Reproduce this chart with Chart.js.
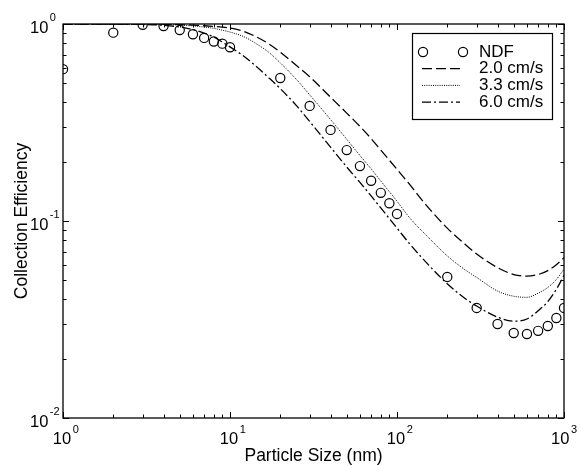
<!DOCTYPE html>
<html>
<head>
<meta charset="utf-8">
<script src="https://cdn.jsdelivr.net/npm/chart.js@4.4.1/dist/chart.umd.min.js"></script>
<style>
  html, body { margin: 0; padding: 0; background: #fff; }
  canvas { display: block; }
</style>
</head>
<body>
<canvas id="c" width="580" height="466"></canvas>
<script>
// ---- data ----
const ndfSize = [1, 2, 3, 4, 5, 6, 7, 8, 9, 10, 20, 30, 40, 50, 60, 70, 80, 90, 100, 200, 300, 400, 500, 600, 700, 800, 900, 1000];
const ndfEff  = [0.59, 0.904, 0.99, 0.977, 0.932, 0.887, 0.85, 0.815, 0.795, 0.762, 0.532, 0.384, 0.29, 0.229, 0.19, 0.16, 0.139, 0.123, 0.1086, 0.052, 0.0362, 0.030, 0.027, 0.0267, 0.0277, 0.0293, 0.0322, 0.0362];

const curveSize = [1, 2, 3, 4, 5, 6, 7, 8, 9, 10, 12, 14, 17, 20, 25, 30, 40, 50, 60, 70, 80, 100, 120, 150, 200, 250, 300, 400, 500, 600, 700, 800, 900, 1000];
const eff20 = [1.0, 1.0, 0.999, 0.997, 0.993, 0.987, 0.98, 0.972, 0.963, 0.955, 0.92, 0.87, 0.795, 0.72, 0.615, 0.54, 0.425, 0.353, 0.302, 0.262, 0.229, 0.183, 0.152, 0.12, 0.092, 0.0775, 0.068, 0.058, 0.0535, 0.0525, 0.0535, 0.056, 0.06, 0.065];
const eff33 = [1.0, 1.0, 0.998, 0.995, 0.988, 0.978, 0.965, 0.95, 0.93, 0.91, 0.865, 0.805, 0.72, 0.635, 0.523, 0.437, 0.3275, 0.26, 0.215, 0.184, 0.1595, 0.126, 0.103, 0.0845, 0.0665, 0.0573, 0.0517, 0.0441, 0.0415, 0.041, 0.043, 0.046, 0.0505, 0.057];
const eff60 = [1.0, 0.999, 0.995, 0.985, 0.965, 0.935, 0.9, 0.86, 0.81, 0.765, 0.69, 0.62, 0.535, 0.47, 0.385, 0.32, 0.237, 0.188, 0.157, 0.134, 0.1165, 0.092, 0.076, 0.0615, 0.048, 0.041, 0.037, 0.0325, 0.031, 0.0318, 0.035, 0.039, 0.045, 0.053];

const seriesLabels = ['NDF', '2.0 cm/s', '3.3 cm/s', '6.0 cm/s'];
const xTickValues = [1, 10, 100, 1000];
const xTickExps   = ['0', '1', '2', '3'];
const yTickValues = [0.01, 0.1, 1];
const yTickExps   = ['-2', '-1', '0'];
const xTitle = 'Particle Size (nm)';
const yTitle = 'Collection Efficiency';

const FONT = '"Liberation Sans", Arial, Helvetica, sans-serif';

function pts(xs, ys) { return xs.map((v, i) => ({ x: v, y: ys[i] })); }

const lineBase = {
  showLine: true, pointRadius: 0, pointHoverRadius: 0,
  borderColor: '#000', backgroundColor: 'transparent',
  fill: false, cubicInterpolationMode: 'monotone'
};

const decor = {
  id: 'decor',
  afterDatasetsDraw(chart) {
    const { ctx, chartArea: a, scales: { x, y } } = chart;
    ctx.save();
    ctx.strokeStyle = '#000';
    ctx.lineWidth = 1.3;
    ctx.setLineDash([]);
    ctx.strokeRect(a.left, a.top, a.right - a.left, a.bottom - a.top);

    // minor/major ticks on all four sides, pointing inward
    ctx.lineWidth = 1;
    ctx.beginPath();
    for (let d = 1; d <= 1000; d *= 10) {
      for (let m = 1; m <= (d === 1000 ? 1 : 9); m++) {
        const px = Math.round(x.getPixelForValue(d * m)) + 0.5;
        const len = m === 1 ? 6 : 3.5;
        ctx.moveTo(px, a.bottom); ctx.lineTo(px, a.bottom - len);
        ctx.moveTo(px, a.top); ctx.lineTo(px, a.top + len);
      }
    }
    for (let d = 0.01; d <= 1.0001; d *= 10) {
      for (let m = 1; m <= (d > 0.5 ? 1 : 9); m++) {
        const py = Math.round(y.getPixelForValue(d * m)) + 0.5;
        const len = m === 1 ? 6 : 3.5;
        ctx.moveTo(a.left, py); ctx.lineTo(a.left + len, py);
        ctx.moveTo(a.right, py); ctx.lineTo(a.right - len, py);
      }
    }
    ctx.stroke();

    // tick labels 10^n
    ctx.fillStyle = '#000';
    ctx.textBaseline = 'alphabetic';
    ctx.textAlign = 'left';
    const baseFont = '16.5px ' + FONT, expFont = '11px ' + FONT;
    const W = chart.width;
    xTickValues.forEach((v, i) => {
      const px = x.getPixelForValue(v);
      ctx.font = baseFont;
      const w = ctx.measureText('10').width;
      ctx.font = expFont;
      const we = ctx.measureText(xTickExps[i]).width;
      let lx = px - w / 2 - 1;
      const overflow = lx + w + 1.5 + we - (W - 3);
      if (overflow > 0) lx -= overflow;
      ctx.font = baseFont;
      ctx.fillText('10', lx, a.bottom + 26);
      ctx.font = expFont;
      ctx.fillText(xTickExps[i], lx + w + 1.5, a.bottom + 15);
    });
    yTickValues.forEach((v, i) => {
      const py = y.getPixelForValue(v);
      ctx.font = baseFont;
      const w = ctx.measureText('10').width;
      const lx = a.left - 33;
      ctx.fillText('10', lx, py + 9);
      ctx.font = expFont;
      ctx.fillText(yTickExps[i], lx + w + 1.5, py - 3);
    });

    // legend
    const bx = a.right - 152, by = a.top + 9, bw = 140, bh = 86;
    ctx.lineWidth = 1.2;
    ctx.strokeRect(bx + 0.5, by + 0.5, bw, bh);
    ctx.font = '17px ' + FONT;
    ctx.textBaseline = 'middle';
    chart.data.datasets.forEach((ds, i) => {
      const ry = by + 19 + i * 16.7;
      if (!ds.showLine) {
        ctx.lineWidth = ds.pointBorderWidth;
        ctx.setLineDash([]);
        [bx + 11, bx + 51].forEach(cx => {
          ctx.beginPath(); ctx.arc(cx, ry, ds.pointRadius, 0, Math.PI * 2); ctx.stroke();
        });
      } else {
        ctx.lineWidth = ds.borderWidth;
        ctx.setLineDash(ds.borderDash || []);
        ctx.beginPath(); ctx.moveTo(bx + 10, ry); ctx.lineTo(bx + 48, ry); ctx.stroke();
      }
      ctx.setLineDash([]);
      ctx.fillText(ds.label, bx + 67, ry);
    });
    ctx.restore();
  }
};

new Chart(document.getElementById('c'), {
  type: 'scatter',
  data: {
    datasets: [
      { label: seriesLabels[0], data: pts(ndfSize, ndfEff), showLine: false,
        pointStyle: 'circle', pointRadius: 4.6, pointBorderWidth: 1.2,
        pointBorderColor: '#000', pointBackgroundColor: 'rgba(0,0,0,0)' },
      Object.assign({}, lineBase, { label: seriesLabels[1], data: pts(curveSize, eff20), borderDash: [10, 4], borderWidth: 1.3 }),
      Object.assign({}, lineBase, { label: seriesLabels[2], data: pts(curveSize, eff33), borderDash: [1, 1.2], borderWidth: 1 }),
      Object.assign({}, lineBase, { label: seriesLabels[3], data: pts(curveSize, eff60), borderDash: [9, 3, 2, 3], borderWidth: 1.3 })
    ]
  },
  options: {
    responsive: false,
    animation: false,
    events: [],
    layout: { padding: { left: 0, top: 24, right: 16, bottom: 0 } },
    plugins: { legend: { display: false }, tooltip: { enabled: false } },
    scales: {
      x: {
        type: 'logarithmic', min: 1, max: 1000,
        grid: { display: false }, border: { display: false },
        ticks: { display: false },
        title: { display: true, text: xTitle, color: '#000',
                 font: { family: FONT, size: 17.5, lineHeight: 1 }, padding: { top: 0, bottom: 1 } },
        afterFit: s => { s.height = 48; }
      },
      y: {
        type: 'logarithmic', min: 0.01, max: 1,
        grid: { display: false }, border: { display: false },
        ticks: { display: false },
        title: { display: true, text: yTitle, color: '#000',
                 font: { family: FONT, size: 17.5, lineHeight: 1 }, padding: { top: 13, bottom: 0 } },
        afterFit: s => { s.width = 63; }
      }
    }
  },
  plugins: [decor]
});
</script>
</body>
</html>
